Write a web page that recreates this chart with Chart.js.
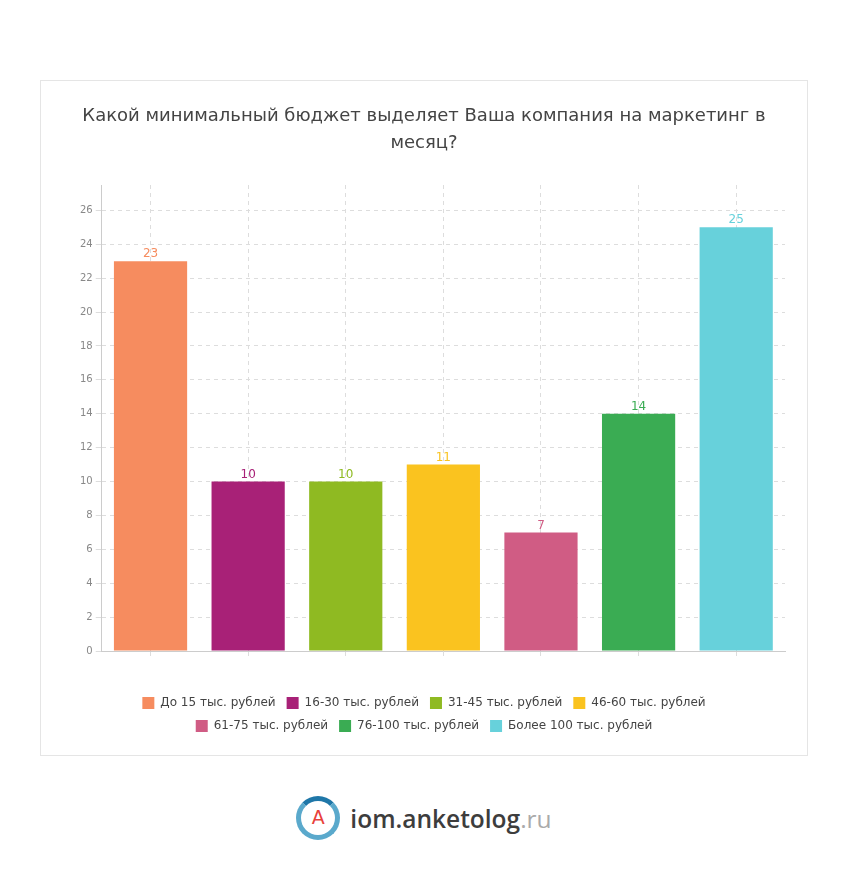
<!DOCTYPE html>
<html>
<head>
<meta charset="utf-8">
<script src="https://cdn.jsdelivr.net/npm/chart.js@4/dist/chart.umd.min.js"></script>
<style>
  body { margin: 0; background: #fff; font-family: "DejaVu Sans", sans-serif; }
  #card { position: absolute; left: 40px; top: 80px; width: 766px; height: 674px; border: 1px solid #e5e5e5; }
  #logo { position: absolute; left: 0; width: 848px; top: 796px; height: 44px; text-align: center; }
  #logo .ico { display: inline-block; vertical-align: middle; width: 34px; height: 34px; border-radius: 50%;
    border: 5px solid #5aa9cc; border-top-color: #1f77a8; position: relative; margin-right: 10px; }
  #logo .ico span { position: absolute; left: 0; right: 0; top: 5px; text-align: center; color: #e8403a;
    font: 19px "DejaVu Sans", sans-serif; }
  #logo .txt { display: inline-block; vertical-align: middle; font: 600 24.5px "Open Sans", sans-serif; color: #3d3d3d; }
  #logo .txt em { font-style: normal; font-weight: 400; color: #aaa; }
</style>
</head>
<body>
<div id="card"><canvas id="grafico" width="766" height="674"></canvas></div>
<div id="logo"><div class="ico"><span>A</span></div><div class="txt">iom.anketolog<em>.ru</em></div></div>
<script>
// Datos del gráfico
const categorias = ["До 15 тыс. рублей", "16-30 тыс. рублей", "31-45 тыс. рублей", "46-60 тыс. рублей",
  "61-75 тыс. рублей", "76-100 тыс. рублей", "Более 100 тыс. рублей"];
const valores = [23, 10, 10, 11, 7, 14, 25];
const colores = ["#f68c5f", "#a82177", "#8fba22", "#fac31f", "#d05c84", "#3aac53", "#67d1db"];
const titulo = ["Какой минимальный бюджет выделяет Ваша компания на маркетинг в", "месяц?"];

// etiquetas encima de cada barra
const etiquetasBarras = {
  id: 'etiquetasBarras',
  afterDatasetsDraw(chart) {
    const ctx = chart.ctx;
    const meta = chart.getDatasetMeta(0);
    ctx.save();
    ctx.font = '12px "DejaVu Sans", sans-serif';
    ctx.textAlign = 'center';
    ctx.textBaseline = 'bottom';
    meta.data.forEach((bar, i) => {
      ctx.fillStyle = colores[i];
      ctx.fillText(valores[i], bar.x, bar.y - 1);
    });
    ctx.restore();
  }
};

const ctx = document.getElementById("grafico").getContext("2d");
new Chart(ctx, {
  type: 'bar',
  data: {
    labels: categorias,
    datasets: [{
      data: valores,
      backgroundColor: colores,
      barPercentage: 0.75,
      categoryPercentage: 1
    }]
  },
  options: {
    responsive: false,
    animation: false,
    layout: { padding: { left: 22, right: 22, top: 0, bottom: 13 } },
    plugins: {
      title: {
        display: true,
        text: titulo,
        color: '#444',
        font: { family: 'DejaVu Sans', size: 18, weight: 'normal', lineHeight: 1.5 },
        padding: { top: 22, bottom: 28 }
      },
      legend: {
        position: 'bottom',
        labels: {
          color: '#444',
          font: { family: 'DejaVu Sans', size: 12 },
          boxWidth: 12,
          boxHeight: 12,
          padding: 11,
          generateLabels: () => categorias.map((c, i) => ({
            text: c, fillStyle: colores[i], strokeStyle: colores[i], fontColor: '#444', lineWidth: 0, index: i
          }))
        }
      },
      tooltip: { enabled: false }
    },
    scales: {
      y: {
        min: 0,
        max: 27.5,
        ticks: { stepSize: 2, includeBounds: false, color: '#888', font: { family: 'DejaVu Sans', size: 10 }, padding: 3 },
        grid: { color: '#ddd', tickLength: 6, tickColor: '#ddd' },
        border: { color: '#ccc', dash: [4, 4] },
        afterFit: (scale) => { scale.width += 14; }
      },
      x: {
        ticks: { display: false },
        grid: { offset: false, color: '#ddd', tickLength: 5, tickColor: '#ddd' },
        border: { color: '#ccc', dash: [4, 4] },
        afterFit: (scale) => { scale.height += 30; }
      }
    }
  },
  plugins: [etiquetasBarras]
});
</script>
</body>
</html>
